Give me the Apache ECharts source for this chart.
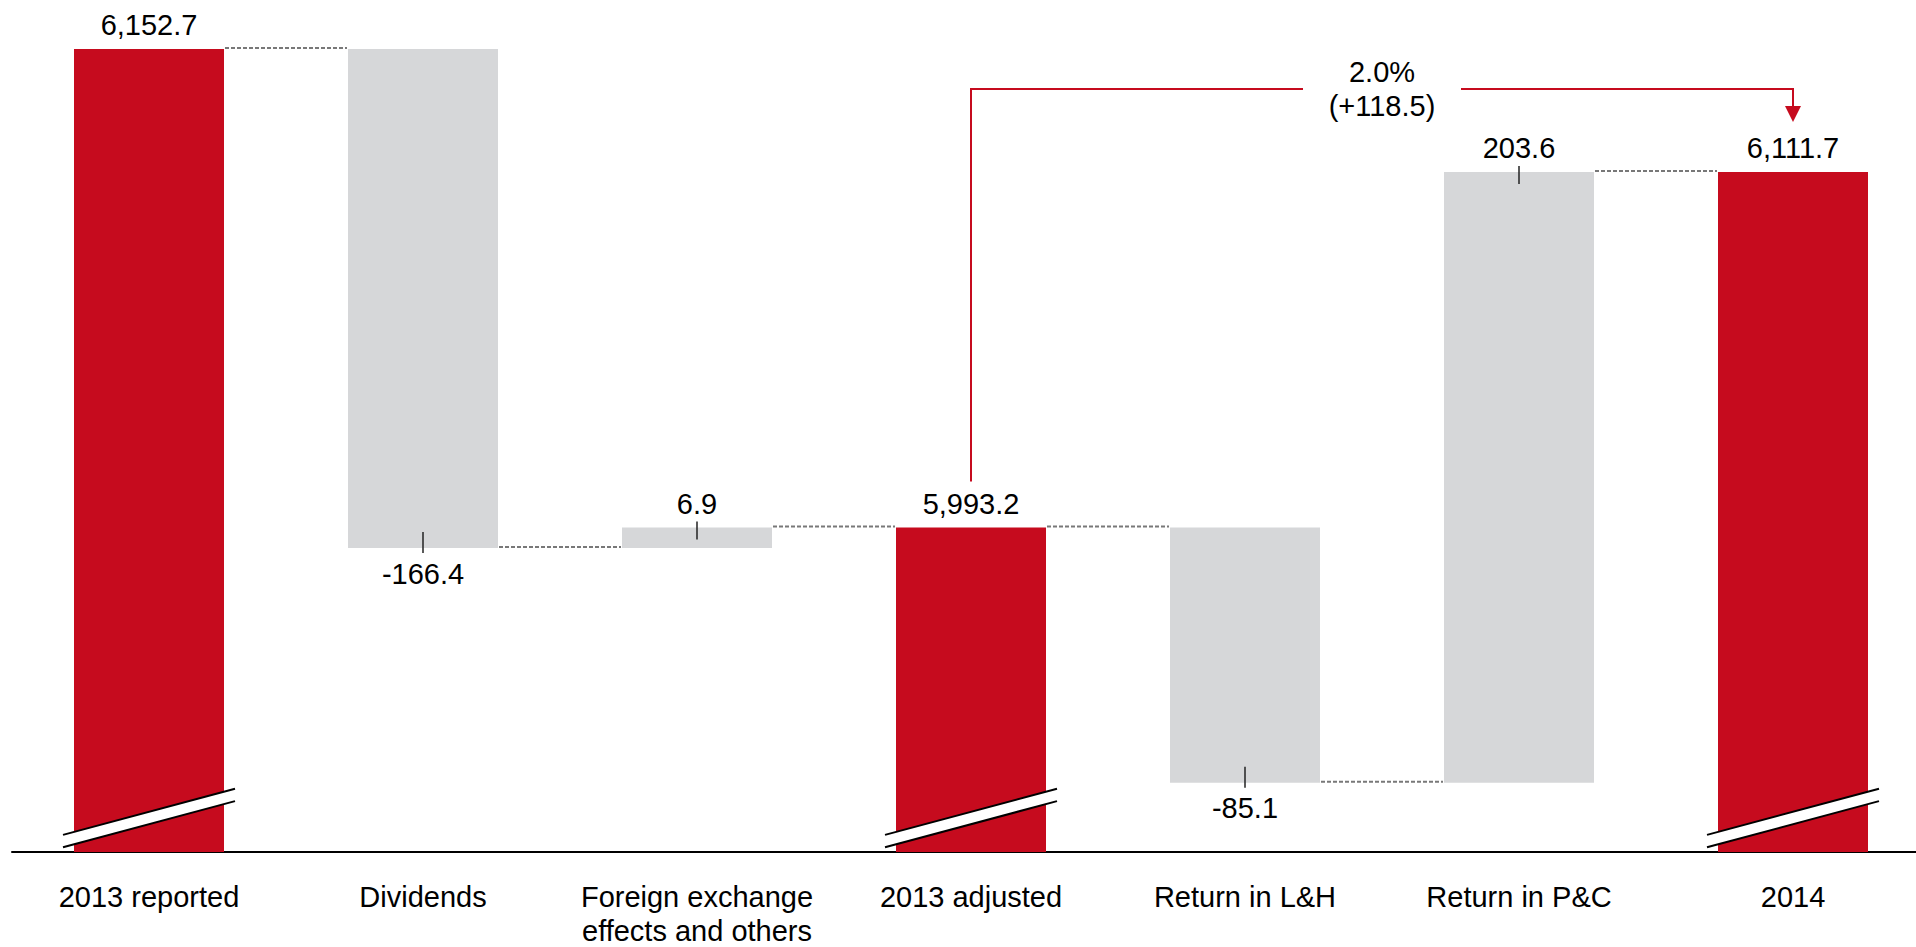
<!DOCTYPE html>
<html>
<head>
<meta charset="utf-8">
<script src="https://cdn.jsdelivr.net/npm/echarts@6/dist/echarts.min.js"></script>
<style>
  html, body { margin: 0; padding: 0; background: #fff; }
  #chart { width: 1916px; height: 947px; }
</style>
</head>
<body>
<div id="chart"></div>
<script>
// Shareholders' equity bridge, 2013 reported -> 2014
const categories = [
  '2013 reported',
  'Dividends',
  'Foreign exchange\neffects and others',
  '2013 adjusted',
  'Return in L&H',
  'Return in P&C',
  '2014'
];
// Totals (red, broken bars) and changes (grey floating bars)
const totals  = [6152.7, null, null, 5993.2, null, null, 6111.7];
const changes = [null, -166.4, 6.9, null, -85.1, 203.6, null];

// Value axis window (bars are cut, so the axis does not start at zero)
const axisMin = 5885;
const axisMax = 6165;

const RED = '#c60b1e';
const GREY = '#d6d7d9';
const FONT = '"Liberation Sans", Arial, sans-serif';
const BAR_W = 150;

// Running levels of the bridge
const lows = [], highs = [], levelAfter = [];
let level = 0;
categories.forEach((c, i) => {
  if (totals[i] != null) {
    level = totals[i];
    lows.push(null); highs.push(level);
  } else {
    const next = level + changes[i];
    lows.push(Math.min(level, next));
    highs.push(Math.max(level, next));
    level = next;
  }
  levelAfter.push(level);
});

const fmt = v => v.toLocaleString('en-US', { minimumFractionDigits: 1, maximumFractionDigits: 1 });

const baseData = categories.map((c, i) => totals[i] != null ? 0 : lows[i]);
const barData = categories.map((c, i) => {
  const isTotal = totals[i] != null;
  const value = isTotal ? totals[i] : highs[i] - lows[i];
  const neg = !isTotal && changes[i] < 0;
  return {
    value: value,
    itemStyle: { color: isTotal ? RED : GREY },
    label: {
      show: true,
      position: neg ? 'bottom' : 'top',
      distance: neg ? 11 : 9,
      formatter: () => fmt(isTotal ? totals[i] : changes[i])
    }
  };
});

// Connectors, value ticks and axis-break marks
function renderDecor(params, api) {
  const i = api.value(0);
  const kids = [];
  const base = api.coord([i, axisMin]);
  const cx = base[0], yBase = base[1];
  const half = BAR_W / 2;

  if (i < categories.length - 1) {
    const y = api.coord([i, levelAfter[i]])[1] - 1;
    const nx = api.coord([i + 1, axisMin])[0];
    kids.push({
      type: 'line',
      shape: { x1: cx + half + 1, y1: y, x2: nx - half - 1, y2: y },
      style: { stroke: '#787878', lineWidth: 2, lineDash: [4, 2] }
    });
  }

  if (changes[i] != null) {
    let y1, y2;
    if (changes[i] < 0) {
      const y = api.coord([i, lows[i]])[1];
      y1 = y - 16; y2 = y + 5;
    } else {
      const y = api.coord([i, highs[i]])[1];
      y1 = y - 6; y2 = y + 12;
    }
    kids.push({
      type: 'line',
      shape: { x1: cx, y1: y1, x2: cx, y2: y2 },
      style: { stroke: '#222', lineWidth: 1.5 }
    });
  }

  if (totals[i] != null) {
    const hw = half + 11;
    const dy = hw * 0.268;
    const cy = yBase - 34;
    const g = 6.2;
    kids.push({
      type: 'polygon',
      shape: { points: [[cx - hw, cy + dy - g], [cx + hw, cy - dy - g], [cx + hw, cy - dy + g], [cx - hw, cy + dy + g]] },
      style: { fill: '#fff' }
    });
    kids.push({
      type: 'line',
      shape: { x1: cx - hw, y1: cy + dy - g, x2: cx + hw, y2: cy - dy - g },
      style: { stroke: '#000', lineWidth: 2 }
    });
    kids.push({
      type: 'line',
      shape: { x1: cx - hw, y1: cy + dy + g, x2: cx + hw, y2: cy - dy + g },
      style: { stroke: '#000', lineWidth: 2 }
    });
  }
  return { type: 'group', children: kids };
}

// Growth bracket from "2013 adjusted" to "2014"
const bracketFrom = 3, bracketTo = 6;
const growthAbs = totals[bracketTo] - totals[bracketFrom];
const growthPct = growthAbs / totals[bracketFrom] * 100;
const bracketText = growthPct.toFixed(1) + '%\n(+' + fmt(growthAbs) + ')';

function renderBracket(params, api) {
  const x1 = api.coord([bracketFrom, axisMin])[0];
  const x2 = api.coord([bracketTo, axisMin])[0];
  const yStart = api.coord([bracketFrom, totals[bracketFrom]])[1] - 46;
  const yLine = api.coord([0, Math.max(...totals.filter(v => v != null))])[1] + 40;
  const yTip = api.coord([bracketTo, totals[bracketTo]])[1] - 50;
  const mx = (x1 + x2) / 2;
  const gap = 79;
  const head = 16;
  const st = { stroke: RED, lineWidth: 2, fill: null };
  return {
    type: 'group',
    children: [
      { type: 'polyline', shape: { points: [[x1, yStart], [x1, yLine], [mx - gap, yLine]] }, style: st },
      { type: 'polyline', shape: { points: [[mx + gap, yLine], [x2, yLine], [x2, yTip - head]] }, style: st },
      { type: 'polygon', shape: { points: [[x2 - 8, yTip - head], [x2 + 8, yTip - head], [x2, yTip]] }, style: { fill: RED } },
      {
        type: 'text', x: mx, y: yLine,
        style: {
          text: bracketText, fill: '#000', fontSize: 29, fontFamily: FONT,
          align: 'center', verticalAlign: 'middle', lineHeight: 34
        }
      }
    ]
  };
}

const chart = echarts.init(document.getElementById('chart'), null, { renderer: 'svg' });
chart.setOption({
  animation: false,
  backgroundColor: '#fff',
  grid: { left: 12, right: -14, top: 12, bottom: 95, containLabel: false, outerBoundsMode: 'none' },
  xAxis: {
    type: 'category',
    data: categories,
    axisLine: { show: true, lineStyle: { color: '#000', width: 2 } },
    axisTick: { show: false },
    axisLabel: {
      interval: 0, color: '#000', fontSize: 29, fontFamily: FONT,
      lineHeight: 34, margin: 28
    }
  },
  yAxis: {
    type: 'value', min: axisMin, max: axisMax, show: false,
    splitLine: { show: false }
  },
  series: [
    {
      type: 'bar', stack: 'bridge', data: baseData, barWidth: BAR_W,
      itemStyle: { color: 'transparent' }, silent: true, clip: true
    },
    {
      type: 'bar', stack: 'bridge', data: barData, barWidth: BAR_W, clip: true,
      label: { color: '#000', fontSize: 29, fontFamily: FONT }
    },
    {
      type: 'custom', data: categories.map((c, i) => [i]), renderItem: renderDecor,
      z: 5, silent: true
    },
    {
      type: 'custom', data: [[bracketFrom]], renderItem: renderBracket,
      z: 6, silent: true
    }
  ]
});
</script>
</body>
</html>
